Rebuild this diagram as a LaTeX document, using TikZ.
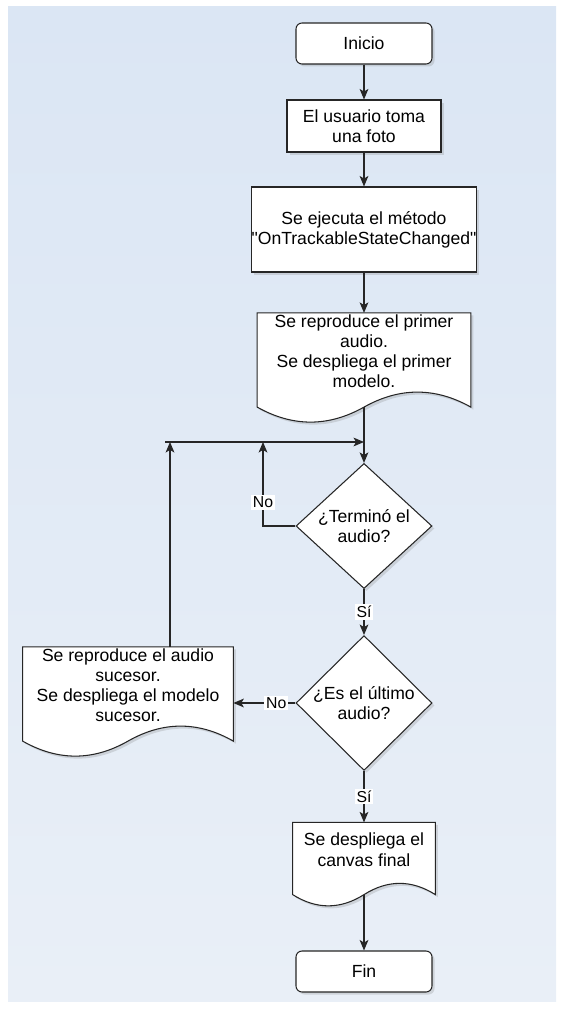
\documentclass[tikz,border=0pt]{standalone}
\usepackage{fontspec}
\setmainfont{Liberation Sans}[Ligatures=TeXOff]
\usetikzlibrary{arrows.meta,shapes.geometric,shadows,calc,backgrounds}

\definecolor{bgtop}{RGB}{219,230,244}
\definecolor{bgbot}{RGB}{233,239,247}
\definecolor{outline}{RGB}{38,38,38}

% document symbol around a node: name, height of the wave
\newcommand{\docwave}[2]{%
  \begin{scope}[on background layer]
  \draw[docline] (#1.north west) -- (#1.north east) -- (#1.south east)
    .. controls ($(#1.south east)!1/3!(#1.south)+(0,#2)$) and ($(#1.south)!1/3!(#1.south east)+(0,#2)$) .. (#1.south)
    .. controls ($(#1.south)!1/3!(#1.south west)-(0,#2)$) and ($(#1.south west)!1/3!(#1.south)-(0,#2)$) .. (#1.south west) -- cycle;
  \end{scope}}

\begin{document}
\begin{tikzpicture}
\tikzset{shade/.style = {drop shadow={shadow xshift=.05cm,shadow yshift=-.05cm,opacity=.25}}}
\tikzset{base/.style = {font=\fontsize{10}{11.5}\selectfont,align=center,inner sep=0pt}}
\tikzset{terminal/.style = {base,shape=rectangle,rounded corners=.12cm,draw=outline,fill=white,line width=.6pt,shade,minimum width=2.72cm,minimum height=.82cm}}
\tikzset{process/.style = {base,shape=rectangle,draw=outline,fill=white,line width=.6pt,shade}}
\tikzset{decision/.style = {base,shape=diamond,draw=outline,fill=white,line width=.6pt,shade,minimum width=2.72cm,minimum height=2.24cm}}
\tikzset{document/.style = {base,shape=rectangle,minimum height=1.87cm,text depth=10pt}}
\tikzset{docline/.style = {draw=outline,fill=white,line width=.6pt,shade}}
\tikzset{edge/.style = {-{Stealth[length=6pt,width=5pt,inset=1.5pt]},draw=outline,line width=.6pt}}
\tikzset{lbl/.style = {font=\fontsize{9}{10}\selectfont,fill=white,inner sep=1pt}}
\useasboundingbox (0,0) rectangle (11.24,-20.18);
\begin{scope}[on background layer]
\fill[top color=bgtop,bottom color=bgbot] (.16,-.14) rectangle (11.12,-20.02);
\end{scope}
% vertices
\node[terminal] (inicio)  at (7.28,-.87)   {Inicio};
\node[process,minimum width=3.08cm,minimum height=1.04cm] (usuario) at (7.28,-2.52) {El usuario toma\\una foto};
\node[process,minimum width=4.46cm,minimum height=1.7cm] (metodo) at (7.28,-4.59) {Se ejecuta el método\\"OnTrackableStateChanged"};
\node[document,minimum width=4.26cm] (primero) at (7.28,-7.2) {Se reproduce el primer\\audio.\\Se despliega el primer\\modelo.};
\node[decision] (termino) at (7.28,-10.52) {¿Terminó el\\audio?};
\node[decision] (ultimo)  at (7.28,-14.06) {¿Es el último\\audio?};
\node[document,minimum width=4.2cm] (sucesor) at (2.56,-13.88) {Se reproduce el audio\\sucesor.\\Se despliega el modelo\\sucesor.};
\node[document,minimum width=2.84cm,minimum height=1.43cm] (final) at (7.28,-17.17) {Se despliega el\\canvas final};
\node[terminal] (fin) at (7.28,-19.43) {Fin};
\docwave{primero}{.4cm}
\docwave{sucesor}{.4cm}
\docwave{final}{.3cm}
\coordinate (loopL) at (3.3,-8.84);
\coordinate (loopR) at (7.28,-8.84);
\coordinate (upL)   at (3.4,-8.84);
\coordinate (noTop) at (5.26,-8.84);
%edges
\draw[edge] (inicio) -- (usuario);
\draw[edge] (usuario) -- (metodo);
\draw[edge] (metodo) -- (primero);
\draw[edge] (primero.south) -- (termino);
\draw[edge] (termino.west) -| node[lbl,pos=.64] {No} (noTop);
\draw[edge] (loopL) -- (loopR);
\draw[edge] (termino) -- node[lbl] {Sí} (ultimo);
\draw[edge] (ultimo.west) -- node[lbl,pos=.31] {No} (ultimo.west -| sucesor.east);
\draw[edge] (sucesor.north -| upL) -- (upL);
\draw[edge] (ultimo) -- node[lbl] {Sí} (final);
\draw[edge] (final.south) -- (fin);
\end{tikzpicture}
\end{document}
